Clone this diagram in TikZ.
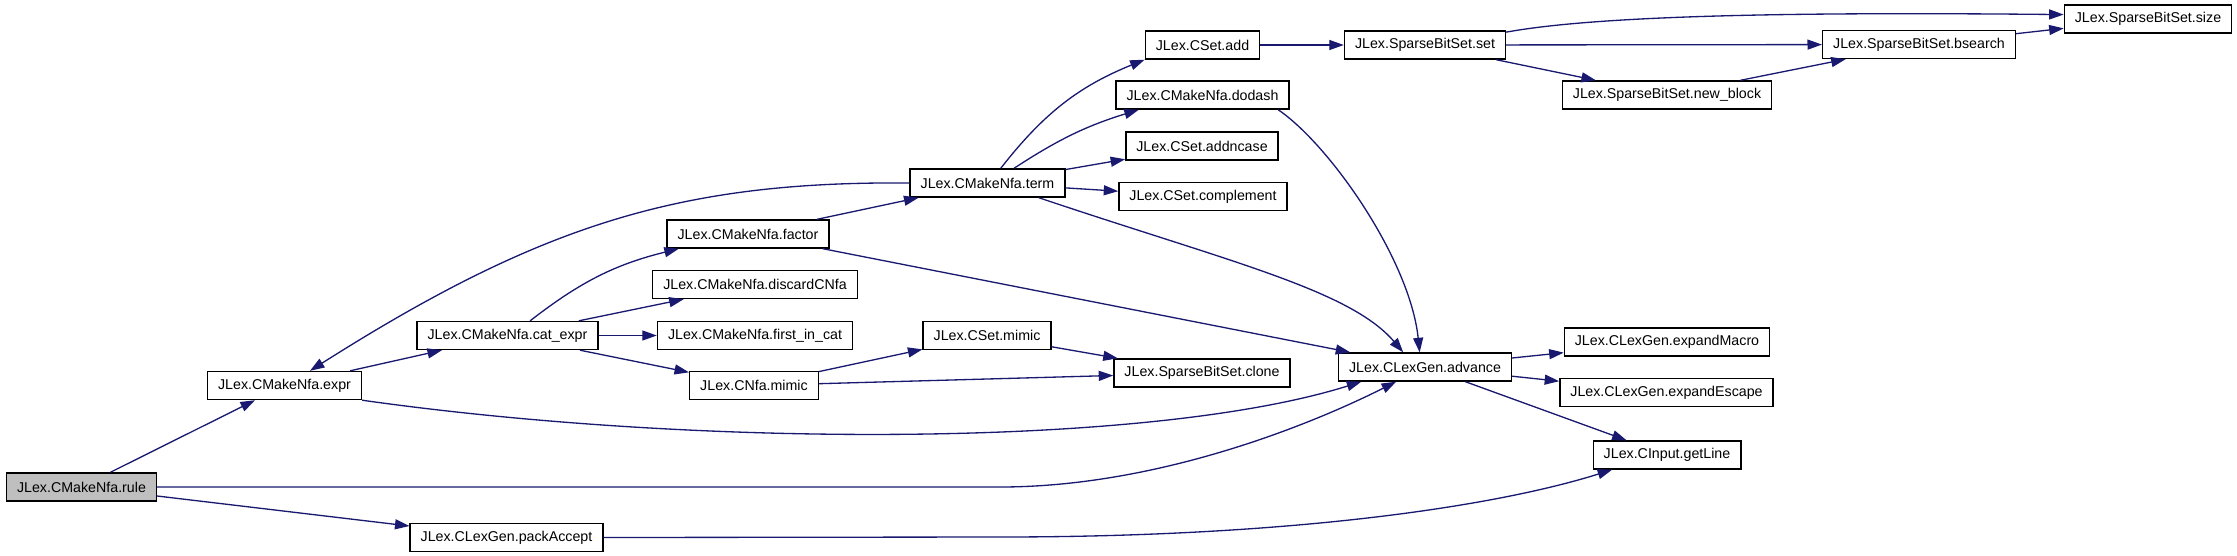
\documentclass[tikz,border=0pt]{standalone}
\usepackage{fontspec}
\setmainfont{Liberation Sans}
\usetikzlibrary{arrows.meta}
\definecolor{callblue}{RGB}{25,25,112}
\definecolor{rootgray}{RGB}{191,191,191}
\tikzset{
  fnbox/.style={draw=black, line width=0.8pt, fill=white, inner xsep=0.21cm, inner ysep=0pt,
                minimum height=0.56cm, font=\fontsize{8.1}{9}\selectfont},
  rootbox/.style={fnbox, fill=rootgray},
  call/.style={-{Triangle[length=0.29cm, width=0.2cm]}, callblue, line width=0.75pt},
}
\begin{document}
\begin{tikzpicture}[x=0.02cm, y=-0.02cm]
  \useasboundingbox (0,0) rectangle (2237,555);
  % call graph boxes, one column after the other
  \node[rootbox] (rule) at (81.5,487) {JLex.CMakeNfa.rule};
  \node[fnbox] (expr) at (284.5,385.5) {JLex.CMakeNfa.expr};
  \node[fnbox] (packacc) at (506.5,537.5) {JLex.CLexGen.packAccept};
  \node[fnbox] (catexpr) at (507.5,335.5) {JLex.CMakeNfa.cat\_expr};
  \node[fnbox] (factor) at (748,234) {JLex.CMakeNfa.factor};
  \node[fnbox] (discard) at (755,284.5) {JLex.CMakeNfa.discardCNfa};
  \node[fnbox] (firstcat) at (755,335.5) {JLex.CMakeNfa.first\_in\_cat};
  \node[fnbox] (nfamimic) at (754,385.5) {JLex.CNfa.mimic};
  \node[fnbox] (term) at (987.5,183) {JLex.CMakeNfa.term};
  \node[fnbox] (csetmimic) at (987,335.5) {JLex.CSet.mimic};
  \node[fnbox] (csetadd) at (1202.5,45) {JLex.CSet.add};
  \node[fnbox] (dodash) at (1202.5,95) {JLex.CMakeNfa.dodash};
  \node[fnbox] (addncase) at (1202,146) {JLex.CSet.addncase};
  \node[fnbox] (compl) at (1203,196.5) {JLex.CSet.complement};
  \node[fnbox] (clone) at (1202,373) {JLex.SparseBitSet.clone};
  \node[fnbox] (bsset) at (1425,45) {JLex.SparseBitSet.set};
  \node[fnbox] (advance) at (1425,367) {JLex.CLexGen.advance};
  \node[fnbox] (newblock) at (1667,95) {JLex.SparseBitSet.new\_block};
  \node[fnbox] (expmacro) at (1667,342) {JLex.CLexGen.expandMacro};
  \node[fnbox] (expescape) at (1666.5,392.5) {JLex.CLexGen.expandEscape};
  \node[fnbox] (getline) at (1667,455) {JLex.CInput.getLine};
  \node[fnbox] (bsearch) at (1919,44.5) {JLex.SparseBitSet.bsearch};
  \node[fnbox] (bssize) at (2148,19) {JLex.SparseBitSet.size};

  % calls
  \draw[call] (rule.27) -- (expr);
  \draw[call] (rule) -- (packacc);
  \draw[call] (rule.east) -- (1000,487) .. controls (1150,487) and (1300,430) .. (advance.207);
  \draw[call] (expr) -- (catexpr);
  \draw[call] (expr.south east) .. controls (700,448) and (1150,448) .. (advance.193);
  \draw[call] (term.west) .. controls (680,181) and (540,225) .. (expr.30);
  \draw[call] (catexpr.33) to[bend left=12] (factor.192);
  \draw[call] (catexpr) -- (discard);
  \draw[call] (catexpr) -- (firstcat);
  \draw[call] (catexpr) -- (nfamimic);
  \draw[call] (factor) -- (term);
  \draw[call] (factor) -- (advance);
  \draw[call] (nfamimic) -- (csetmimic);
  \draw[call] (nfamimic) -- (clone);
  \draw[call] (csetmimic) -- (clone);
  \draw[call] (term.48) to[bend left=15] (csetadd.south west);
  \draw[call] (term.29) to[bend left=8] (dodash.193);
  \draw[call] (term) -- (addncase);
  \draw[call] (term) -- (compl);
  \draw[call] (term.-16) .. controls (1230,262) and (1350,290) .. (advance.146);
  \draw[call] (dodash.-11) .. controls (1330,145) and (1410,260) .. (advance.110);
  \draw[call] (csetadd) -- (bsset);
  \draw[call] (bsset.9) .. controls (1600,15) and (1800,12) .. (bssize.177);
  \draw[call] (bsset) -- (bsearch);
  \draw[call] (bsset) -- (newblock);
  \draw[call] (newblock) -- (bsearch);
  \draw[call] (bsearch) -- (bssize);
  \draw[call] (advance) -- (expmacro);
  \draw[call] (advance) -- (expescape);
  \draw[call] (advance) -- (getline);
  \draw[call] (packacc.east) -- (1000,537) .. controls (1300,537) and (1500,505) .. (getline.195);
\end{tikzpicture}
\end{document}
